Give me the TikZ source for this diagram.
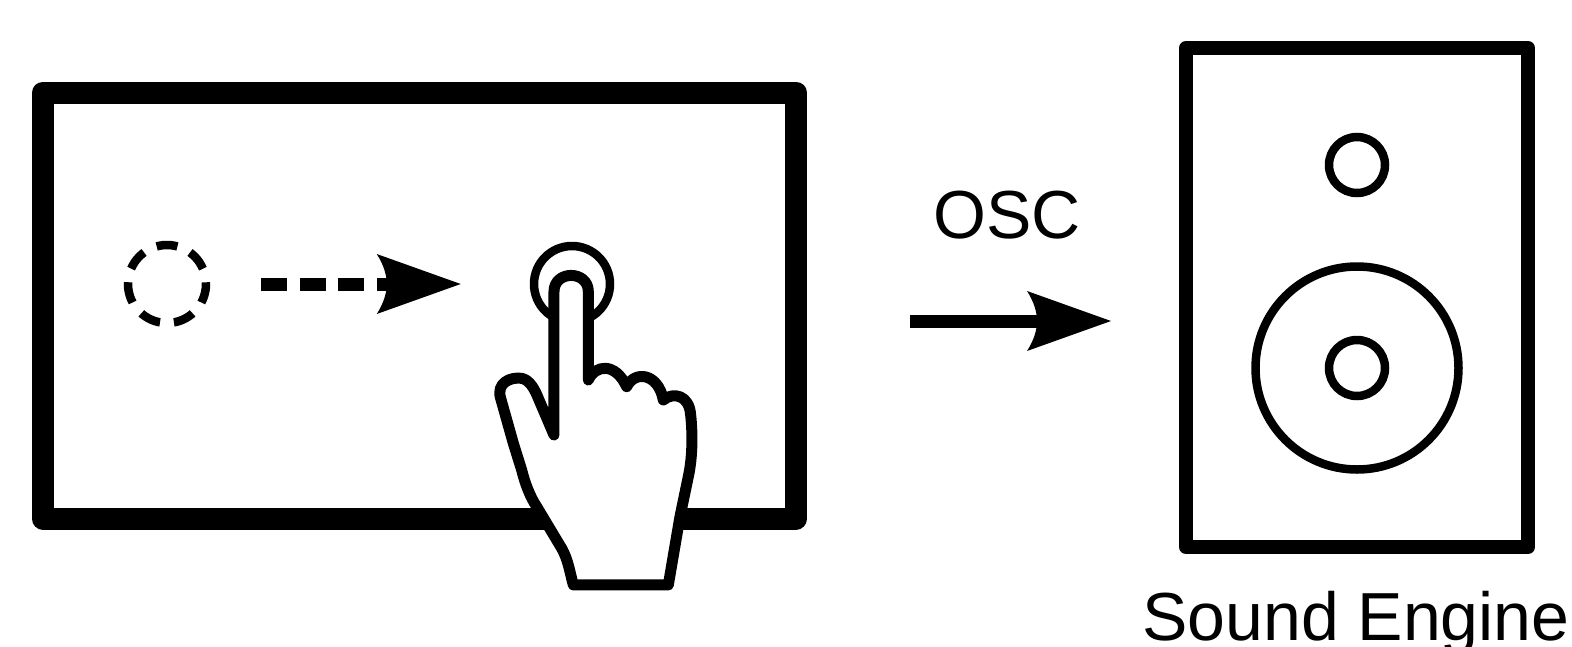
\documentclass[tikz,border=0pt]{standalone}
\usepackage{fontspec}
\setmainfont{Liberation Sans}
\usetikzlibrary{positioning}

\pgfdeclarearrow{
  name = OscTip,
  setup code = {
    \pgfarrowssettipend{84pt}
    \pgfarrowssetlineend{14pt}
    \pgfarrowssetbackend{0pt}
    \pgfarrowssetvisualbackend{10pt}
  },
  drawing code = {
    \pgfpathmoveto{\pgfpoint{84pt}{0pt}}
    \pgfpathlineto{\pgfpoint{0pt}{30pt}}
    \pgfpathcurveto{\pgfpoint{7pt}{19pt}}{\pgfpoint{10pt}{9pt}}{\pgfpoint{10pt}{0pt}}
    \pgfpathcurveto{\pgfpoint{10pt}{-9pt}}{\pgfpoint{7pt}{-19pt}}{\pgfpoint{0pt}{-30pt}}
    \pgfpathclose
    \pgfusepathqfill
  },
  parameters = {x}
}

\tikzset{
  frame/.style={draw, line width=#1, line join=round, inner sep=0pt},
  disc/.style={draw, circle, line width=8.5pt, inner sep=0pt, minimum size=#1},
  caption/.style={inner sep=0pt, font=\fontsize{#1}{#1}\selectfont},
  flow/.style={line width=13pt, -{OscTip}}
}

\begin{document}
\begin{tikzpicture}[x=1pt, y=-1pt]

  \useasboundingbox (0,0) rectangle (1572,646);

  \node[frame=22pt, minimum width=753pt, minimum height=426pt] (screen) at (419.5,305.5) {};

  \node[disc=78pt, dash pattern=on 21pt off 14pt, dash phase=19.3pt] (t_start) at (167,284) {};
  \node[disc=76pt] (t_end) at (572,284) {};
  \draw[flow, dash pattern=on 26pt off 12.5pt, shorten <=51pt, shorten >=69pt] (t_start) -- (t_end);

  % hand
  \begin{scope}[shift={(480,220)}, x=0.3333pt, y=-0.3333pt]
    \draw[fill=white, line width=11pt, line join=round]
      (222,645) -- (222,215) .. controls (222,150) and (325,150) .. (325,215)
      -- (325,480) .. controls (345,435) and (405,425) .. (440,500)
      .. controls (465,450) and (535,460) .. (550,540)
      .. controls (580,515) and (628,525) .. (632,585)
      .. controls (638,640) and (638,710) .. (625,770)
      -- (600,890) -- (565,1095) -- (280,1095)
      .. controls (270,1060) and (265,1020) .. (245,985)
      -- (170,860) .. controls (150,830) and (135,790) .. (125,750)
      -- (100,670) -- (62,535)
      .. controls (48,490) and (90,470) .. (125,475)
      .. controls (150,480) and (165,510) .. (175,535) -- cycle;
  \end{scope}

  \node[frame=14pt, minimum width=342pt, minimum height=499pt] (speaker) at (1357,297.5) {};
  \node[disc=56pt] (spk_top) at (1357,165) {};
  \node[disc=203pt] (spk_cone) at (1357,368) {};
  \node[disc=56pt] (spk_mid) at (1357,368) {};

  \draw[flow, shorten <=103pt, shorten >=68pt] ([yshift=-15.5pt]screen.east) -- ([yshift=-23.5pt]speaker.west);
  \node[caption=68pt] (osc) at (1007,215) {OSC};

  \node[caption=68pt, anchor=base] (engine) at (1356,640) {Sound Engine};

\end{tikzpicture}
\end{document}
